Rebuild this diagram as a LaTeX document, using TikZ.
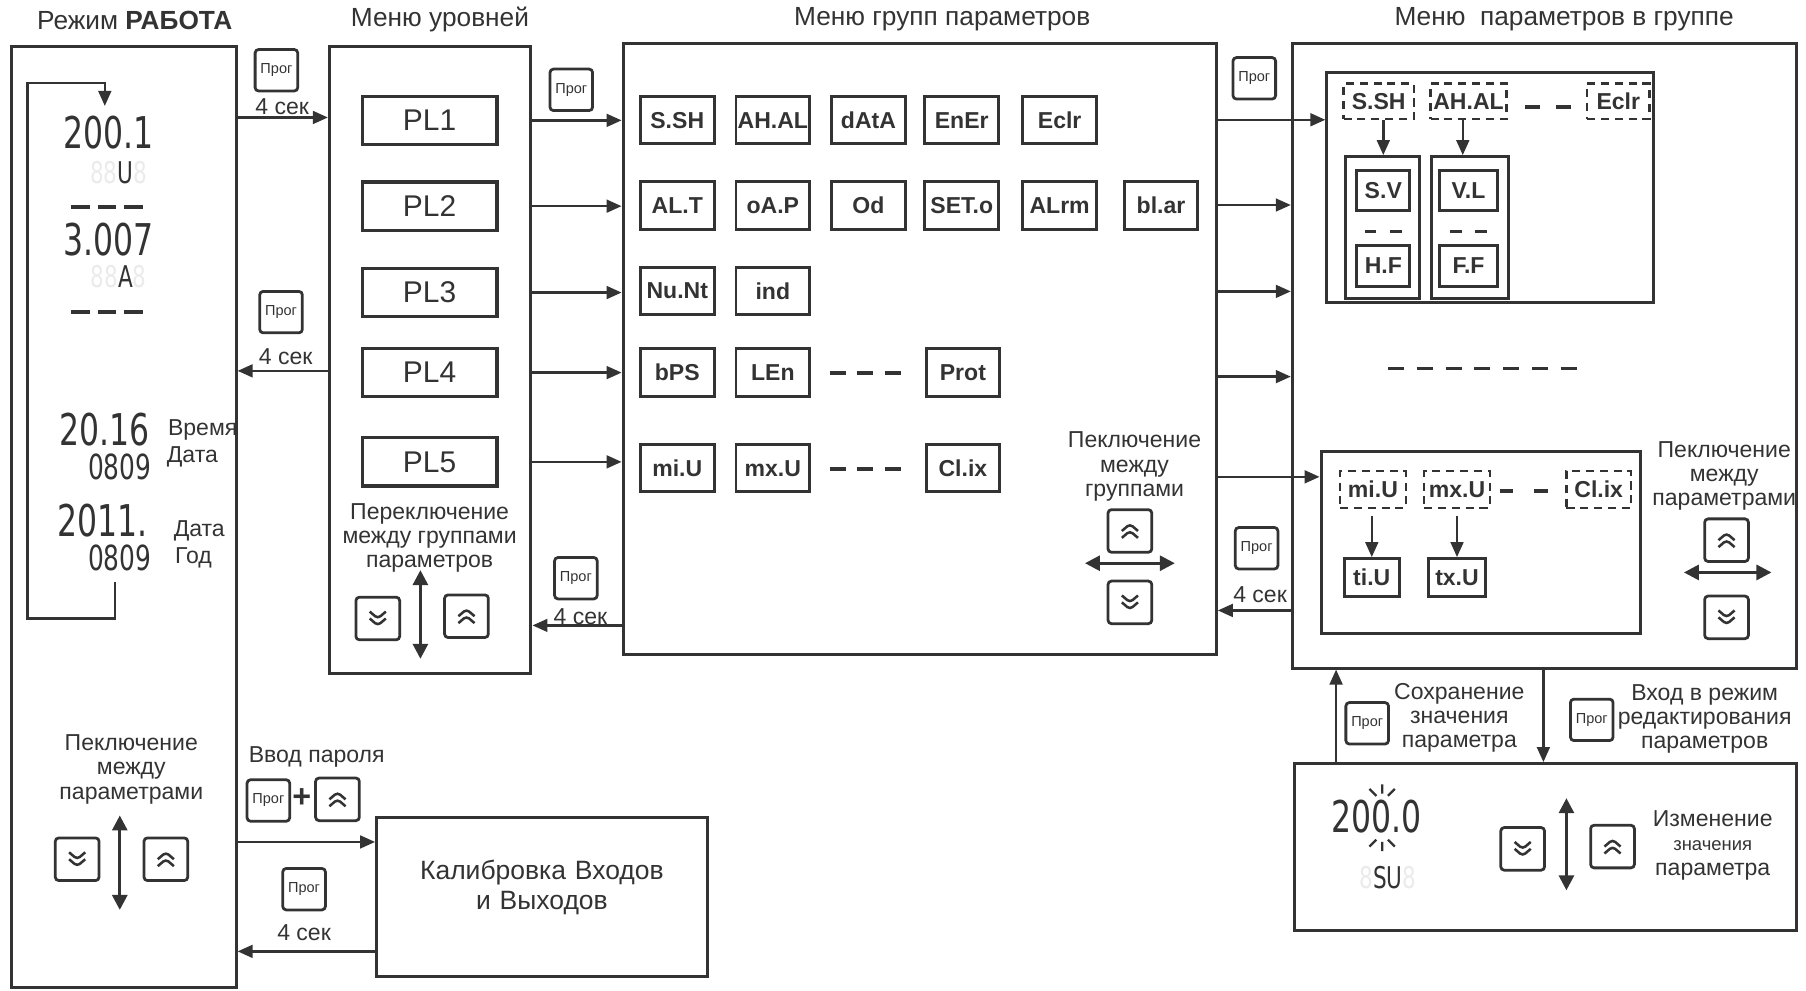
\documentclass[tikz,border=0pt]{standalone}
\usepackage{fontspec}
\setmainfont{Liberation Sans}
\newfontfamily\lcdf[FakeStretch=0.72]{DejaVu Sans}
\usetikzlibrary{arrows.meta,fit,calc}
\definecolor{ink}{HTML}{333333}
\begin{document}
\begin{tikzpicture}[x=0.5pt,y=-0.5pt,
  every node/.style={text=ink},
  frame/.style={draw=ink, line width=1.3pt, inner sep=0pt},
  cell/.style={draw=ink, line width=1.3pt, inner sep=0pt, minimum width=32pt, minimum height=20.5pt, font=\bfseries\fontsize{10}{12}\selectfont},
  plbox/.style={draw=ink, line width=1.4pt, minimum width=58.5pt, minimum height=21pt, inner sep=0pt, font=\fontsize{13}{15}\selectfont},
  scell/.style={cell, minimum width=23pt, minimum height=17.5pt},
  tcell/.style={cell, minimum width=24pt, minimum height=16.5pt},
  dcell/.style={draw=ink, dash pattern=on 3.5pt off 2.5pt, line width=1.1pt, minimum width=30.5pt, minimum height=15.5pt, inner sep=0pt, font=\bfseries\fontsize{10}{12}\selectfont},
  key/.style={draw=ink, line width=1.2pt, rounded corners=1.5pt, minimum width=19pt, minimum height=18.5pt, inner sep=0pt},
  prog/.style={key, font=\fontsize{6.3}{7}\selectfont, minimum width=18.5pt, minimum height=18pt},
  upkey/.style={key, path picture={
    \draw[ink, line width=1.1pt] ($(path picture bounding box.center)+(-3.5pt,-3pt)$) -- ++(3.5pt,3pt) -- ++(3.5pt,-3pt);
    \draw[ink, line width=1.1pt] ($(path picture bounding box.center)+(-3.5pt,0pt)$) -- ++(3.5pt,3pt) -- ++(3.5pt,-3pt);}},
  downkey/.style={key, path picture={
    \draw[ink, line width=1.1pt] ($(path picture bounding box.center)+(-3.5pt,3pt)$) -- ++(3.5pt,-3pt) -- ++(3.5pt,3pt);
    \draw[ink, line width=1.1pt] ($(path picture bounding box.center)+(-3.5pt,0pt)$) -- ++(3.5pt,-3pt) -- ++(3.5pt,3pt);}},
  lbl/.style={font=\fontsize{10}{10.5}\selectfont, align=center, inner sep=0pt},
  title/.style={font=\fontsize{11.4}{13}\selectfont, inner sep=0pt},
  conn/.style={draw=ink, line width=1.1pt, -{Triangle[length=6.5pt,width=5.5pt]}},
  both/.style={draw=ink, line width=1.3pt, {Triangle[length=6.5pt,width=6.5pt]}-{Triangle[length=6.5pt,width=6.5pt]}},
  dashes/.style={draw=ink, line width=1.6pt, dash pattern=on 8pt off 3.5pt},
  lcd/.style={font=\lcdf\fontsize{19}{20}\selectfont, inner sep=0pt},
  lcds/.style={font=\lcdf\fontsize{15}{16}\selectfont, inner sep=0pt},
  lcdt/.style={font=\lcdf\fontsize{13}{14}\selectfont, inner sep=0pt},
]
\useasboundingbox (0,0) rectangle (1568,860);

% titles
\node[title] (t1) at (117,18) {Режим \textbf{РАБОТА}};
\node[title] (t2) at (382,17) {Меню уровней};
\node[title] (t3) at (818,17) {Меню групп параметров};
\node[title] (t4) at (1358,17) {Меню\ \ параметров в группе};

% frames
\node[frame, fit={(10,40)(205,857)}] (work) {};
\node[frame, fit={(286,40)(461,585)}] (lvl) {};
\node[frame, fit={(541,38)(1056,568)}] (grp) {};
\node[frame, fit={(1122,38)(1560,580)}] (par) {};
\node[frame, fit={(1124,663)(1560,808)}] (edit) {};
\node[frame, fit={(327,710)(614,848)}, font=\fontsize{11.5}{13}\selectfont, align=center] (cal) {Калибровка Входов\\и Выходов};

% ---------- working mode ----------
\node[lcd] (d1) at (94,115) {200.1};
\node[lcdt] (d1u) at (103,150) {\textcolor{black!8}{88}U\textcolor{black!8}{8}};
\draw[dashes] (62,180) -- (130,180);
\node[lcd] (d2) at (94,208) {3.007};
\node[lcdt] (d2a) at (103,240) {\textcolor{black!8}{88}A\textcolor{black!8}{8}};
\draw[dashes] (62,271) -- (130,271);
\node[lcd] (d3) at (91,373) {20.16};
\node[lbl] (w1) at (176,373) {Время};
\node[lcds] (d4) at (104,405) {0809};
\node[lbl] (w2) at (167,397) {Дата};
\node[lcd] (d5) at (89,452) {2011.};
\node[lbl] (w3) at (173,461) {Дата};
\node[lcds] (d6) at (104,484) {0809};
\node[lbl] (w4) at (168,484) {Год};
\coordinate (lpA) at (100,505);
\draw[conn] (lpA) -- (100,537) -- (24,537) -- (24,72) -- (91,72) -- (91,92);

\node[lbl] (wl) at (114,668) {Пеключение\\между\\параметрами};
\node[downkey] (wd) at (67,746) {};
\node[upkey] (wu) at (144,746) {};
\draw[both] (104,708) -- (104,790);

% work <-> levels
\node[prog] (pb1) at (240,61) {Прог};
\node[lbl] (s1) at (245,93) {4 сек};
\draw[conn] (work.east |- 0,102) -- (lvl.west |- 0,102);
\node[prog] (pb2) at (244,271) {Прог};
\node[lbl] (s2) at (248,310) {4 сек};
\draw[conn] (lvl.west |- 0,322) -- (work.east |- 0,322);

% work <-> calibration
\node[lbl] (vp) at (275,657) {Ввод пароля};
\node[prog] (pb3) at (233,695) {Прог};
\node[font=\bfseries\fontsize{14}{14}\selectfont, inner sep=0pt] (plus) at (262,693) {+};
\node[upkey] (pu) at (293,694) {};
\draw[conn] (work.east |- 0,731) -- (cal.west |- 0,731);
\node[prog] (pb4) at (264,772) {Прог};
\node[lbl] (s3) at (264,810) {4 сек};
\draw[conn] (cal.west |- 0,826) -- (work.east |- 0,826);

% ---------- levels ----------
\node[plbox] (pl1) at (373,104.5) {PL1};
\node[plbox] (pl2) at (373,179) {PL2};
\node[plbox] (pl3) at (373,254) {PL3};
\node[plbox] (pl4) at (373,323.5) {PL4};
\node[plbox] (pl5) at (373,401) {PL5};
\node[lbl] (ll) at (373,467) {Переключение\\между группами\\параметров};
\node[downkey] (ld) at (328,537) {};
\node[upkey] (lu) at (405,535) {};
\draw[both] (365,495) -- (365,572);

\foreach \i in {1,...,5} \draw[conn] (lvl.east |- pl\i) -- (grp.west |- pl\i);
\node[prog] (pb5) at (496,78) {Прог};
\node[prog] (pb6) at (500,502) {Прог};
\node[lbl] (s4) at (504,535) {4 сек};
\draw[conn] (grp.west |- 0,543) -- (lvl.east |- 0,543);

% ---------- groups ----------
\node[cell] (c11) at (588,104.5) {S.SH};
\node[cell] (c12) at (671,104.5) {AH.AL};
\node[cell] (c13) at (754,104.5) {dAtA};
\node[cell] (c14) at (835,104.5) {EnEr};
\node[cell] (c15) at (920,104.5) {Eclr};
\node[cell] (c21) at (588,178.5) {AL.T};
\node[cell] (c22) at (671,178.5) {oA.P};
\node[cell] (c23) at (754,178.5) {Od};
\node[cell] (c24) at (835,178.5) {SET.o};
\node[cell] (c25) at (920,178.5) {ALrm};
\node[cell] (c26) at (1008,178.5) {bl.ar};
\node[cell] (c31) at (588,252.5) {Nu.Nt};
\node[cell] (c32) at (671,252.5) {ind};
\node[cell] (c41) at (588,323.5) {bPS};
\node[cell] (c42) at (671,323.5) {LEn};
\node[cell] (c44) at (836,323.5) {Prot};
\node[cell] (c51) at (588,406.5) {mi.U};
\node[cell] (c52) at (671,406.5) {mx.U};
\node[cell] (c54) at (836,406.5) {Cl.ix};
\draw[draw=ink, line width=1.6pt, dash pattern=on 7pt off 5pt] (c42.east |- 0,324) ++(16,0) -- ++(62,0);
\draw[draw=ink, line width=1.6pt, dash pattern=on 7pt off 5pt] (c52.east |- 0,407) ++(16,0) -- ++(62,0);

\node[lbl] (gl) at (985,405) {Пеключение\\между\\группами};
\node[upkey] (gu) at (981,461) {};
\draw[both] (942,489) -- (1020,489);
\node[downkey] (gd) at (981,523) {};

% ---------- parameters in group ----------
\node[frame, fit={(1152,63)(1436,263)}] (in1) {};
\node[dcell] (p11) at (1197,88) {S.SH};
\node[dcell, minimum width=33pt] (p12) at (1275,88) {AH.AL};
\draw[draw=ink, line width=1.6pt, dash pattern=on 6.5pt off 7pt] (1324,93) -- (1366,93);
\node[dcell, minimum width=27pt] (p13) at (1405,88) {Eclr};
\node[frame, fit={(1168,136)(1232,259)}] (sb1) {};
\node[frame, fit={(1243,136)(1310,259)}] (sb2) {};
\draw[conn] (p11.south -| 1201,0) -- (sb1.north -| 1201,0);
\draw[conn] (p12.south -| 1270,0) -- (sb2.north -| 1270,0);
\node[scell] (q11) at (1201,165.5) {S.V};
\node[scell, minimum width=25pt] (q21) at (1275,165.5) {V.L};
\draw[draw=ink, line width=1.6pt, dash pattern=on 5pt off 6pt] (1185,201) -- (1217,201);
\draw[draw=ink, line width=1.6pt, dash pattern=on 5pt off 6pt] (1259,201) -- (1291,201);
\node[scell] (q12) at (1201,231) {H.F};
\node[scell, minimum width=25pt] (q22) at (1275,231) {F.F};

\draw[draw=ink, line width=1.6pt, dash pattern=on 7pt off 5.5pt] (1205,320) -- (1372,320);

\node[frame, fit={(1147,392)(1424,550)}] (in2) {};
\node[dcell, minimum width=28.5pt, minimum height=16pt] (m1) at (1192,425) {mi.U};
\node[dcell, minimum width=28.5pt, minimum height=16pt] (m2) at (1265,425) {mx.U};
\draw[draw=ink, line width=1.6pt, dash pattern=on 6pt off 9pt] (1302,426) -- (1344,426);
\node[dcell, minimum width=28pt, minimum height=16pt] (m3) at (1388,425) {Cl.ix};
\node[tcell] (n1) at (1191,501.5) {ti.U};
\node[tcell, minimum width=25pt] (n2) at (1265,501.5) {tx.U};
\draw[conn] (m1.south -| n1) ++(0,6) -- (n1.north);
\draw[conn] (m2.south -| n2) ++(0,6) -- (n2.north);

\node[lbl] (pl) at (1497,413) {Пеключение\\между\\параметрами};
\node[upkey] (pu2) at (1499,469) {};
\draw[both] (1462,497) -- (1538,497);
\node[downkey] (pd2) at (1499,536) {};

% groups <-> params
\node[prog] (pb7) at (1089,68) {Прог};
\draw[conn] (grp.east |- 0,104) -- (in1.west |- 0,104);
\draw[conn] (grp.east |- 0,178) -- (par.west |- 0,178);
\draw[conn] (grp.east |- 0,253) -- (par.west |- 0,253);
\draw[conn] (grp.east |- 0,327) -- (par.west |- 0,327);
\draw[conn] (grp.east |- 0,414) -- (in2.west |- 0,414);
\node[prog] (pb8) at (1091,476) {Прог};
\node[lbl] (s5) at (1094,516) {4 сек};
\draw[conn] (par.west |- 0,530) -- (grp.east |- 0,530);

% params <-> edit
\draw[conn] (edit.north -| 1160,0) -- (par.south -| 1160,0);
\draw[conn] (par.south -| 1340,0) -- (edit.north -| 1340,0);
\node[prog] (pb9) at (1187,628) {Прог};
\node[lbl] (sv) at (1267,623) {Сохранение\\значения\\параметра};
\node[prog] (pb10) at (1382,625) {Прог};
\node[lbl] (ve) at (1480,624) {Вход в режим\\редактирования\\параметров};

% ---------- edit ----------
\node[lcd] (e1) at (1195,709) {200.0};
\draw[ink, line width=1pt] (1200,681) -- (1200,689) (1189,685) -- (1195,691) (1211,685) -- (1205,691);
\draw[ink, line width=1pt] (1200,731) -- (1200,739) (1189,735) -- (1195,729) (1211,735) -- (1205,729);
\node[lcdt] (e2) at (1205,762) {\textcolor{black!8}{8}SU\textcolor{black!8}{8}};
\node[downkey] (ed) at (1322,737) {};
\node[upkey] (eu) at (1400,735) {};
\draw[both] (1360,693) -- (1360,773);
\node[lbl] (el) at (1487,734) {Изменение\\{\fontsize{8}{9}\selectfont значения}\\параметра};
\end{tikzpicture}
\end{document}
